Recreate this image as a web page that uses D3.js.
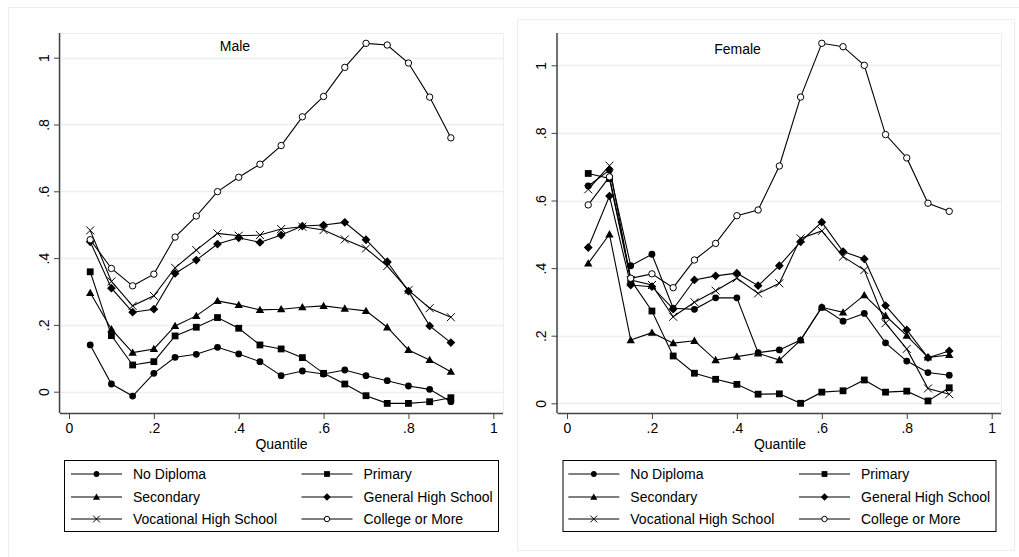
<!DOCTYPE html>
<html>
<head>
<meta charset="utf-8">
<script src="https://cdn.jsdelivr.net/npm/d3@7"></script>
<style>
  body { margin:0; background:#fff; }
  svg text { font-family:"Liberation Sans", Arial, sans-serif; fill:#000; }
</style>
</head>
<body>
<div id="container"></div>
<script>
const quantiles=[0.05,0.1,0.15,0.2,0.25,0.3,0.35,0.4,0.45,0.5,0.55,0.6,0.65,0.7,0.75,0.8,0.85,0.9];
const seriesNames=['No Diploma','Primary','Secondary','General High School','Vocational High School','College or More'];
const xTicks=[0,0.2,0.4,0.6,0.8,1];
const yTicks=[0,0.2,0.4,0.6,0.8,1];
const panelTitles=['Male','Female'];

// male
const maleNoDiploma=[0.140,0.023,-0.013,0.055,0.103,0.112,0.133,0.113,0.090,0.048,0.062,0.053,0.065,0.048,0.033,0.017,0.007,-0.030];
const malePrimary=[0.359,0.168,0.080,0.090,0.167,0.193,0.222,0.190,0.140,0.128,0.102,0.055,0.023,-0.012,-0.035,-0.035,-0.030,-0.018];
const maleSecondary=[0.296,0.187,0.117,0.128,0.197,0.227,0.272,0.260,0.245,0.247,0.253,0.257,0.249,0.242,0.193,0.125,0.095,0.060];
const maleGeneral=[0.449,0.310,0.238,0.247,0.354,0.394,0.442,0.461,0.447,0.469,0.496,0.499,0.507,0.455,0.389,0.301,0.197,0.147];
const maleVocational=[0.483,0.330,0.257,0.287,0.371,0.424,0.474,0.467,0.469,0.487,0.494,0.484,0.456,0.429,0.376,0.304,0.250,0.223];
const maleCollege=[0.455,0.369,0.317,0.352,0.463,0.526,0.599,0.642,0.681,0.737,0.823,0.884,0.971,1.043,1.038,0.984,0.882,0.760];

// female
const femaleNoDiploma=[0.643,0.690,0.407,0.441,0.281,0.278,0.312,0.312,0.150,0.158,0.187,0.284,0.243,0.266,0.179,0.125,0.091,0.083];
const femalePrimary=[0.680,0.665,0.365,0.273,0.140,0.089,0.071,0.056,0.027,0.028,0.000,0.033,0.037,0.069,0.033,0.036,0.007,0.046];
const femaleSecondary=[0.414,0.500,0.187,0.209,0.178,0.185,0.128,0.138,0.148,0.128,0.187,0.284,0.269,0.320,0.259,0.200,0.136,0.143];
const femaleGeneral=[0.461,0.613,0.350,0.345,0.279,0.365,0.377,0.385,0.348,0.407,0.478,0.536,0.449,0.427,0.289,0.217,0.135,0.155];
const femaleVocational=[0.633,0.703,0.365,0.350,0.256,0.299,0.333,0.370,0.325,0.355,0.488,0.510,0.434,0.394,0.237,0.161,0.044,0.027];
const femaleCollege=[0.587,0.670,0.370,0.383,0.342,0.424,0.473,0.555,0.572,0.702,0.906,1.065,1.055,1.000,0.795,0.726,0.592,0.568];

const maleData=[maleNoDiploma,malePrimary,maleSecondary,maleGeneral,maleVocational,maleCollege];
const femaleData=[femaleNoDiploma,femalePrimary,femaleSecondary,femaleGeneral,femaleVocational,femaleCollege];

const width=1019, height=557;
const frameCol='#e8f0f0';
const fs=14;

const svg=d3.select('#container').append('svg')
    .attr('width',width).attr('height',height);

// outer frames
svg.append('rect').attr('x',8.5).attr('y',7.5).attr('width',1030).attr('height',560)
   .attr('fill','none').attr('stroke',frameCol);
svg.append('rect').attr('x',517.5).attr('y',19.5).attr('width',497).attr('height',531)
   .attr('fill','#fff').attr('stroke',frameCol);

// marker drawing
function marker(g,i,x,y,s){
  const k=s||1;
  if(i==0){
    g.append('circle').attr('cx',x).attr('cy',y).attr('r',3.4*k).attr('fill','#000');
  } else if(i==1){
    const h=3.4*k;
    g.append('rect').attr('x',x-h).attr('y',y-h).attr('width',2*h).attr('height',2*h).attr('fill','#000');
  } else if(i==2){
    const h=4.2*k;
    g.append('path').attr('d',`M${x},${y-h}L${x+h},${y+h*0.75}L${x-h},${y+h*0.75}Z`).attr('fill','#000');
  } else if(i==3){
    const h=4.4*k;
    g.append('path').attr('d',`M${x},${y-h}L${x+h},${y}L${x},${y+h}L${x-h},${y}Z`).attr('fill','#000');
  } else if(i==4){
    const h=4*k;
    g.append('path').attr('d',`M${x-h},${y-h}L${x+h},${y+h}M${x-h},${y+h}L${x+h},${y-h}`)
     .attr('stroke','#000').attr('stroke-width',1).attr('fill','none');
  } else {
    g.append('circle').attr('cx',x).attr('cy',y).attr('r',3.2*k).attr('fill','#fff')
     .attr('stroke','#000').attr('stroke-width',1);
  }
}

function drawPanel(p){
  const xScale=d3.scaleLinear().domain([0,1]).range([p.xr0,p.xr1]);
  const yScale=d3.scaleLinear().domain([0,1]).range([p.yr0,p.yr1]);
  const g=svg.append('g');

  // plot region box + gridlines
  g.append('rect').attr('x',p.left+0.5).attr('y',p.top+0.5)
   .attr('width',p.right-p.left).attr('height',p.bottom-p.top)
   .attr('fill','none').attr('stroke',frameCol);
  g.selectAll('.grid').data(yTicks).enter().append('line')
   .attr('x1',p.left).attr('x2',p.right)
   .attr('y1',d=>Math.round(yScale(d))+0.5).attr('y2',d=>Math.round(yScale(d))+0.5)
   .attr('stroke',frameCol).attr('stroke-width',1.5);

  // axes
  const fmt=d=> d==0||d==1 ? String(d) : String(d).replace(/^0/,'');
  const xAxis=d3.axisBottom(xScale).tickValues(xTicks).tickSize(6).tickPadding(4).tickFormat(fmt);
  const yAxis=d3.axisLeft(yScale).tickValues(yTicks).tickSize(6).tickPadding(4).tickFormat(fmt);

  const xa=g.append('g').attr('transform',`translate(0,${p.bottom})`).call(xAxis);
  xa.select('.domain').attr('d',`M${p.left},0.5H${p.right}`);
  const ya=g.append('g').attr('transform',`translate(${p.left},0)`).call(yAxis);
  ya.select('.domain').attr('d',`M-0.5,${p.top}V${p.bottom}`);
  [xa,ya].forEach(a=>{
    a.selectAll('.domain').attr('stroke','#444').attr('stroke-width',1.5);
    a.selectAll('.tick line').attr('stroke','#444');
    a.selectAll('text').attr('font-size',fs).attr('font-family','"Liberation Sans", Arial, sans-serif');
  });
  ya.selectAll('.tick text')
    .attr('x',null).attr('dy',null)
    .attr('text-anchor','middle')
    .attr('transform','translate(-16,0) rotate(-90)')
    .attr('dy','0.35em');

  g.append('text').attr('x',p.xLabelX).attr('y',p.bottom+36).attr('text-anchor','middle')
   .attr('font-size',fs).text('Quantile');
  g.append('text').attr('x',p.titleX).attr('y',p.titleY).attr('text-anchor','middle')
   .attr('font-size',fs).text(p.title);

  // series
  const line=d3.line().x((d,i)=>xScale(quantiles[i])).y(d=>yScale(d));
  p.data.forEach((vals,si)=>{
    g.append('path').attr('d',line(vals)).attr('fill','none')
     .attr('stroke','#000').attr('stroke-width',1.1);
  });
  p.data.forEach((vals,si)=>{
    vals.forEach((v,i)=> marker(g,si,xScale(quantiles[i]),yScale(v)));
  });

  // legend
  const L=p.legend;
  g.append('rect').attr('x',L.x+0.5).attr('y',460.5).attr('width',L.w).attr('height',71)
   .attr('fill','#fff').attr('stroke','#000').attr('stroke-width',1);
  const rows=[474,497,519];
  seriesNames.forEach((name,i)=>{
    const col=i%2, row=Math.floor(i/2);
    const lx=L.cols[col];
    const yy=rows[row];
    g.append('line').attr('x1',lx).attr('x2',lx+51).attr('y1',yy).attr('y2',yy)
     .attr('stroke','#000').attr('stroke-width',1);
    marker(g,i,lx+25.5,yy,0.85);
    g.append('text').attr('x',lx+62).attr('y',yy).attr('dy','0.36em')
     .attr('font-size',fs).text(name);
  });
}

drawPanel({
  title:panelTitles[0], data:maleData,
  left:60, right:503, top:33, bottom:413,
  xr0:69, xr1:493.3, yr0:391.7, yr1:57.7,
  titleX:235, titleY:51, xLabelX:281.5,
  legend:{x:64, w:434, cols:[71,301.5]}
});
drawPanel({
  title:panelTitles[1], data:femaleData,
  left:557.5, right:1001, top:33, bottom:413,
  xr0:567, xr1:991.7, yr0:403.3, yr1:65.3,
  titleX:737.5, titleY:54, xLabelX:780,
  legend:{x:562.5, w:433, cols:[568.3,799]}
});
</script>
</body>
</html>
